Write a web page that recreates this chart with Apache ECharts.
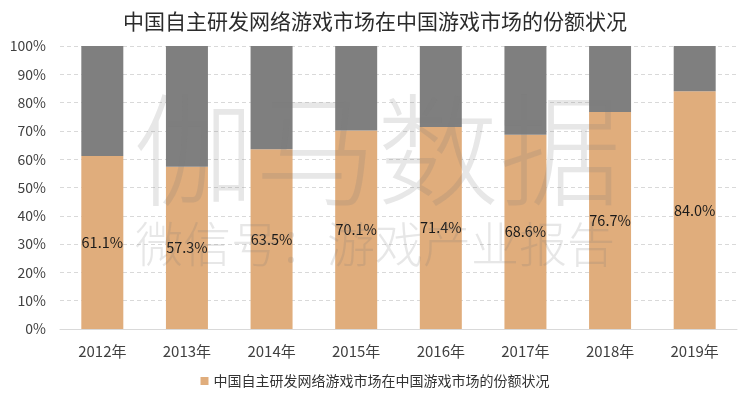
<!DOCTYPE html>
<html><head><meta charset="utf-8">
<script src="https://cdn.jsdelivr.net/npm/echarts@6/dist/echarts.min.js"></script>
<style>html,body{margin:0;padding:0;background:#fff}#c{width:750px;height:399px}</style>
</head><body><div id="c"></div>
<script>
var categories = ['2012年','2013年','2014年','2015年','2016年','2017年','2018年','2019年'];
var shareValues = [61.1, 57.3, 63.5, 70.1, 71.4, 68.6, 76.7, 84.0];
var restValues = [38.9, 42.7, 36.5, 29.9, 28.6, 31.4, 23.3, 16.0];
var yTicks = ['0%','10%','20%','30%','40%','50%','60%','70%','80%','90%','100%'];
var seriesName = '中国自主研发网络游戏市场在中国游戏市场的份额状况';
var titleText = '中国自主研发网络游戏市场在中国游戏市场的份额状况';
var font = '"Noto Sans CJK SC", "Microsoft YaHei", sans-serif';

var chart = echarts.init(document.getElementById('c'));
chart.setOption({
  animation: false,
  title: {text: titleText, left: 'center', top: 6,
    textStyle: {fontFamily: font, fontSize: 21, fontWeight: 'normal', color: '#2b2b2b'}},
  grid: {left: 60, right: 13, top: 46, bottom: 70},
  legend: {data: [seriesName], bottom: 6, left: 'center', itemWidth: 8, itemHeight: 8, itemGap: 4,
    icon: 'rect', textStyle: {fontFamily: font, fontSize: 14, color: '#333'}},
  xAxis: {type: 'category', data: categories,
    axisLine: {lineStyle: {color: '#d9d9d9'}}, axisTick: {show: false},
    axisLabel: {fontFamily: font, fontSize: 15, color: '#404040', margin: 15}},
  yAxis: {type: 'value', min: 0, max: 100, interval: 10,
    axisLine: {show: false}, axisTick: {show: false},
    splitLine: {lineStyle: {color: '#d9d9d9', type: [4, 3]}},
    axisLabel: {fontFamily: font, fontSize: 14, color: '#404040', margin: 14,
      formatter: function (v) { return yTicks[Math.round(v / 10)]; }}},
  series: [
    {name: seriesName, type: 'bar', stack: 'a', data: shareValues, barWidth: 42,
      itemStyle: {color: '#e0ad7c'},
      label: {show: true, position: 'inside', fontFamily: font, fontSize: 14.5, color: '#1a1a1a',
        formatter: function (p) { return p.value.toFixed(1) + '%'; }}},
    {name: 'rest', type: 'bar', stack: 'a', data: restValues, barWidth: 42,
      itemStyle: {color: '#7f7f7f'}}
  ],
  graphic: [
    {type: 'text', left: 133, top: 89, z: 100, silent: true,
      style: {text: '伽马数据', font: '300 122px ' + font, fill: 'rgba(120,120,120,0.18)'}},
    {type: 'text', left: 135, top: 220, z: 100, silent: true,
      style: {text: '微信号：游戏产业报告', font: '300 48px ' + font, fill: 'rgba(120,120,120,0.18)'}}
  ]
});
</script></body></html>
